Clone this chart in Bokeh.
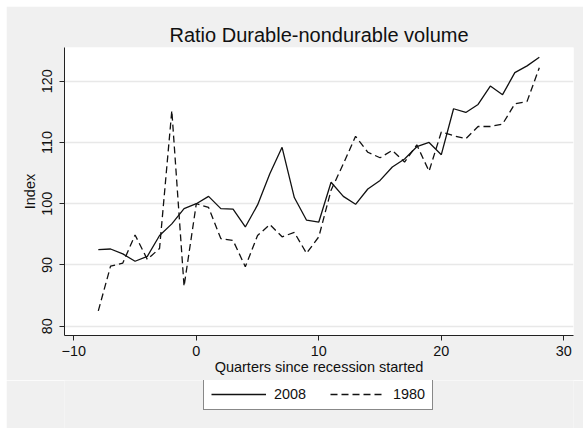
from bokeh.plotting import figure
from bokeh.models import (FixedTicker, Legend, LegendItem, Range1d, Plot,
                          ColumnDataSource, Line)
from bokeh.layouts import column
from bokeh.embed import file_html
from bokeh.resources import INLINE

quarters = list(range(-8, 29))
vol_2008 = [92.5, 92.6, 91.8, 90.6, 91.4, 94.8, 96.7, 99.2, 100.0, 101.2,
            99.2, 99.1, 96.2, 99.8, 104.9, 109.2, 101.0, 97.3, 97.0, 103.5,
            101.2, 99.9, 102.4, 103.8, 106.0, 107.3, 109.3, 110.0, 108.0, 115.5,
            114.9, 116.2, 119.2, 117.8, 121.4, 122.5, 123.9]
vol_1980 = [82.5, 89.8, 90.3, 94.9, 90.9, 92.7, 115.2, 86.5, 100.0, 99.4,
            94.3, 94.0, 89.7, 94.8, 96.6, 94.6, 95.3, 91.9, 94.6, 102.2,
            106.5, 111.0, 108.4, 107.5, 108.7, 106.8, 109.6, 105.3, 111.7, 111.1,
            110.6, 112.6, 112.6, 113.0, 116.3, 116.7, 122.2]
x_ticks = [-10, 0, 10, 20, 30]
y_ticks = [80, 90, 100, 110, 120]
series_names = ["2008", "1980"]

FONT = "Liberation Sans"
GRAY = "#f0f0f0"
INK = "#111111"
DASH = "7 4"

p = figure(width=577, height=374, output_backend="svg", toolbar_location=None,
           x_range=Range1d(-10.76, 30.79), y_range=Range1d(78.48, 125.5),
           min_border_left=58, min_border_right=10, min_border_top=41,
           min_border_bottom=45)
p.background_fill_color = "white"
p.border_fill_color = GRAY
p.outline_line_color = None

p.title.text = "Ratio Durable-nondurable volume"
p.title.text_font = FONT
p.title.text_font_size = "20px"
p.title.text_font_style = "normal"
p.title.text_color = INK
p.title.align = "center"
p.title.standoff = 3

for ax in (p.xaxis[0], p.yaxis[0]):
    ax.axis_line_color = "#222222"
    ax.axis_line_width = 1
    ax.major_tick_line_color = "#222222"
    ax.major_tick_out = 5
    ax.major_tick_in = 0
    ax.minor_tick_line_color = None
    ax.major_label_text_font = FONT
    ax.major_label_text_font_size = "14.4px"
    ax.major_label_text_color = INK
    ax.axis_label_text_font = FONT
    ax.axis_label_text_font_size = "14.5px"
    ax.axis_label_text_font_style = "normal"
    ax.axis_label_text_color = INK

p.xaxis.ticker = FixedTicker(ticks=x_ticks)
p.yaxis.ticker = FixedTicker(ticks=y_ticks)
p.xaxis.axis_label = "Quarters since recession started"
p.yaxis.axis_label = "Index"
p.yaxis.major_label_orientation = "vertical"
p.xaxis.major_label_standoff = 5
p.yaxis.major_label_standoff = 7
p.xaxis.axis_label_standoff = 0
p.yaxis.axis_label_standoff = 2

p.xgrid.grid_line_color = None
p.ygrid.grid_line_color = "#e8e8e8"
p.ygrid.grid_line_width = 1.5

p.line(quarters, vol_2008, line_color=INK, line_width=1.3)
p.line(quarters, vol_1980, line_color=INK, line_width=1.3, line_dash=DASH)

# legend strip below the chart (its frame is aligned with the chart's frame)
lg = Plot(width=577, height=48, output_backend="svg", toolbar_location=None,
          x_range=Range1d(0, 1), y_range=Range1d(0, 1), title=None,
          min_border=0, outline_line_color=None,
          background_fill_color=GRAY, border_fill_color=GRAY)
nan = float("nan")
key_src = ColumnDataSource(data=dict(x=[nan], y=[nan]))
g1 = lg.add_glyph(key_src, Line(x="x", y="y", line_color=INK, line_width=1.3))
g2 = lg.add_glyph(key_src, Line(x="x", y="y", line_color=INK, line_width=1.3,
                                line_dash=DASH))
legend = Legend(items=[LegendItem(label=series_names[0], renderers=[g1]),
                       LegendItem(label=series_names[1], renderers=[g2])],
                location=(139, 18), orientation="horizontal")
legend.margin = 0
legend.padding = 7
legend.spacing = 24
legend.glyph_width = 55
legend.glyph_height = 14
legend.label_height = 14
legend.label_standoff = 8
legend.label_text_font = FONT
legend.label_text_font_size = "14.4px"
legend.label_text_color = INK
legend.border_line_color = "#111111"
legend.border_line_width = 1
legend.background_fill_color = "white"
legend.background_fill_alpha = 1
lg.add_layout(legend, "center")

layout = column(p, lg, spacing=0, margin=(6, 0, 0, 6))
open("out.html", "w").write(file_html(layout, INLINE))
